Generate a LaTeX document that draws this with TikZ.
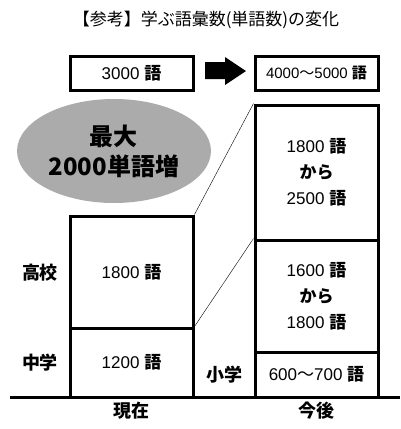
\documentclass[tikz,border=0pt]{standalone}
\usepackage{fontspec}
\setmainfont{Liberation Sans}
\newfontfamily\jp{Noto Sans CJK JP}
\usetikzlibrary{shapes.geometric}
\tikzset{
  box/.style={draw,line width=3pt,minimum width=123pt,align=center,
    font=\fontsize{17}{26}\selectfont},
  lab/.style={font=\jp\bfseries\fontsize{18}{20}\selectfont},
}
\newcommand{\go}{{\jp\bfseries 語}}
\begin{document}
\begin{tikzpicture}[x=1pt,y=-1pt]
        \useasboundingbox (0,0) rectangle (401,429);
        \node (title) at (206,20) {\jp\fontsize{17}{20}\selectfont 【参考】学ぶ語彙数(単語数)の変化};
        \node[box,minimum height=34pt] (now) at (131.5,73) {3000 \go};
        \node[box,minimum height=34pt] (next) at (316.5,73) {\fontsize{15}{20}\selectfont 4000{\jp 〜}5000 \go};
        \fill (205,62)--(225,62)--(225,57)--(246,71)--(225,85)--(225,79)--(205,79)--cycle;
        \node[ellipse,fill=black!33,minimum width=172pt,minimum height=104pt,align=center,
          font=\jp\bfseries\fontsize{24}{30}\selectfont] (more) at (114,151) {最大\\2000単語増};
        % now
        \node[box,minimum height=112pt] (hs) at (131.5,272) {1800 \go};
        \node[box,minimum height=69pt] (jhs) at (131.5,362.5) {1200 \go};
        % future
        \node[box,minimum height=135pt] (fhs) at (316.5,172.5) {1800 \go\\{\jp\bfseries から}\\2500 \go};
        \node[box,minimum height=112pt] (fjhs) at (316.5,296) {1600 \go\\{\jp\bfseries から}\\1800 \go};
        \node[box,minimum height=45pt] (fes) at (316.5,374.5) {600{\jp 〜}700 \go};
        \draw (hs.north east)--(fhs.north west);
        \draw (jhs.north east)--(fjhs.north west);
        \coordinate (l) at (10,397);
        \coordinate (r) at (400,397);
        \draw[line width=3pt] (l)--(r);
        \node[lab] at (40,273) {高校};
        \node[lab] at (40,363) {中学};
        \node[lab] at (224,375) {小学};
        \node[lab] at (131.5,411) {現在};
        \node[lab] at (316.5,411) {今後};
\end{tikzpicture}
\end{document}
